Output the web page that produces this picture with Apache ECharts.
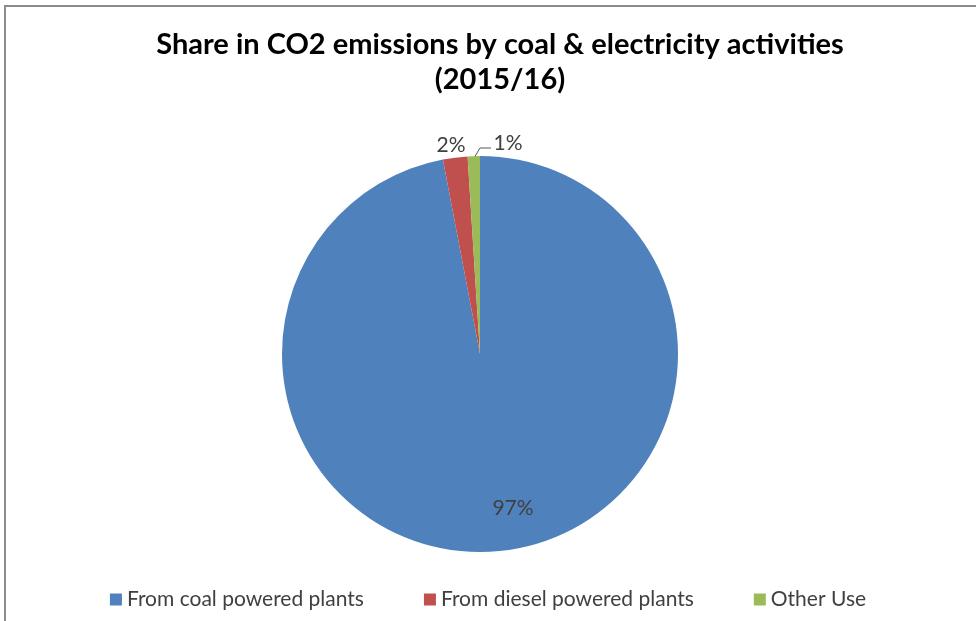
<!DOCTYPE html>
<html>
<head>
<meta charset="utf-8">
<script src="https://cdn.jsdelivr.net/npm/echarts@6/dist/echarts.min.js"></script>
<style>
  html, body { margin: 0; padding: 0; background: #fff; }
  #chart { width: 976px; height: 621px; }
</style>
</head>
<body>
<div id="chart"></div>
<script>
// Sources of CO2 emissions, 2015/16 (per cent share)
const categories = ['From coal powered plants', 'From diesel powered plants', 'Other Use'];
const shares = [97, 2, 1];
const colors = ['#4F81BD', '#C0504D', '#9BBB59'];

const CX = 480, CY = 354, R = 198;
const FONT = 'Lato, "Open Sans", sans-serif';

const chart = echarts.init(document.getElementById('chart'), null, { renderer: 'canvas' });

chart.setOption({
  animation: false,
  backgroundColor: '#ffffff',
  title: {
    text: 'Share in CO2 emissions by coal & electricity activities\n(2015/16)',
    left: 495,
    textAlign: 'center',
    top: 22,
    textStyle: {
      fontFamily: FONT,
      fontWeight: 'bold',
      fontSize: 29,
      lineHeight: 35,
      color: '#000000'
    }
  },
  legend: {
    bottom: 6,
    left: 'center',
    icon: 'rect',
    itemWidth: 12,
    itemHeight: 12,
    itemGap: 60,
    data: categories,
    textStyle: { fontFamily: FONT, fontSize: 21, color: '#404040' }
  },
  graphic: [{
    type: 'rect',
    shape: { x: 5, y: 6, width: 1000, height: 700 },
    style: { fill: 'none', stroke: '#8c8c8c', lineWidth: 2 },
    silent: true
  }],
  series: [{
    type: 'pie',
    center: [CX, CY],
    radius: [0, R],
    startAngle: 90,
    clockwise: true,
    color: colors,
    itemStyle: { borderWidth: 0 },
    label: {
      show: true,
      formatter: '{d}%',
      fontFamily: FONT,
      fontSize: 21,
      color: '#404040'
    },
    labelLine: { show: true, lineStyle: { color: '#595959', width: 1 } },
    labelLayout: function (p) {
      if (p.dataIndex === 0) {
        return { x: CX + 33, y: CY + 154, align: 'center', verticalAlign: 'middle' };
      }
      if (p.dataIndex === 1) {
        return { x: CX - 29, y: CY - 209, align: 'center', verticalAlign: 'middle' };
      }
      return {
        x: CX + 28, y: CY - 211, align: 'center', verticalAlign: 'middle',
        labelLinePoints: [[CX - 6, CY - R + 2], [CX, CY - R - 8], [CX + 11, CY - R - 8]]
      };
    },
    data: categories.map((name, i) => ({
      name: name,
      value: shares[i],
      label: { position: i === 0 ? 'inside' : 'outside' },
      labelLine: { show: i === 2 }
    }))
  }]
});
</script>
</body>
</html>
